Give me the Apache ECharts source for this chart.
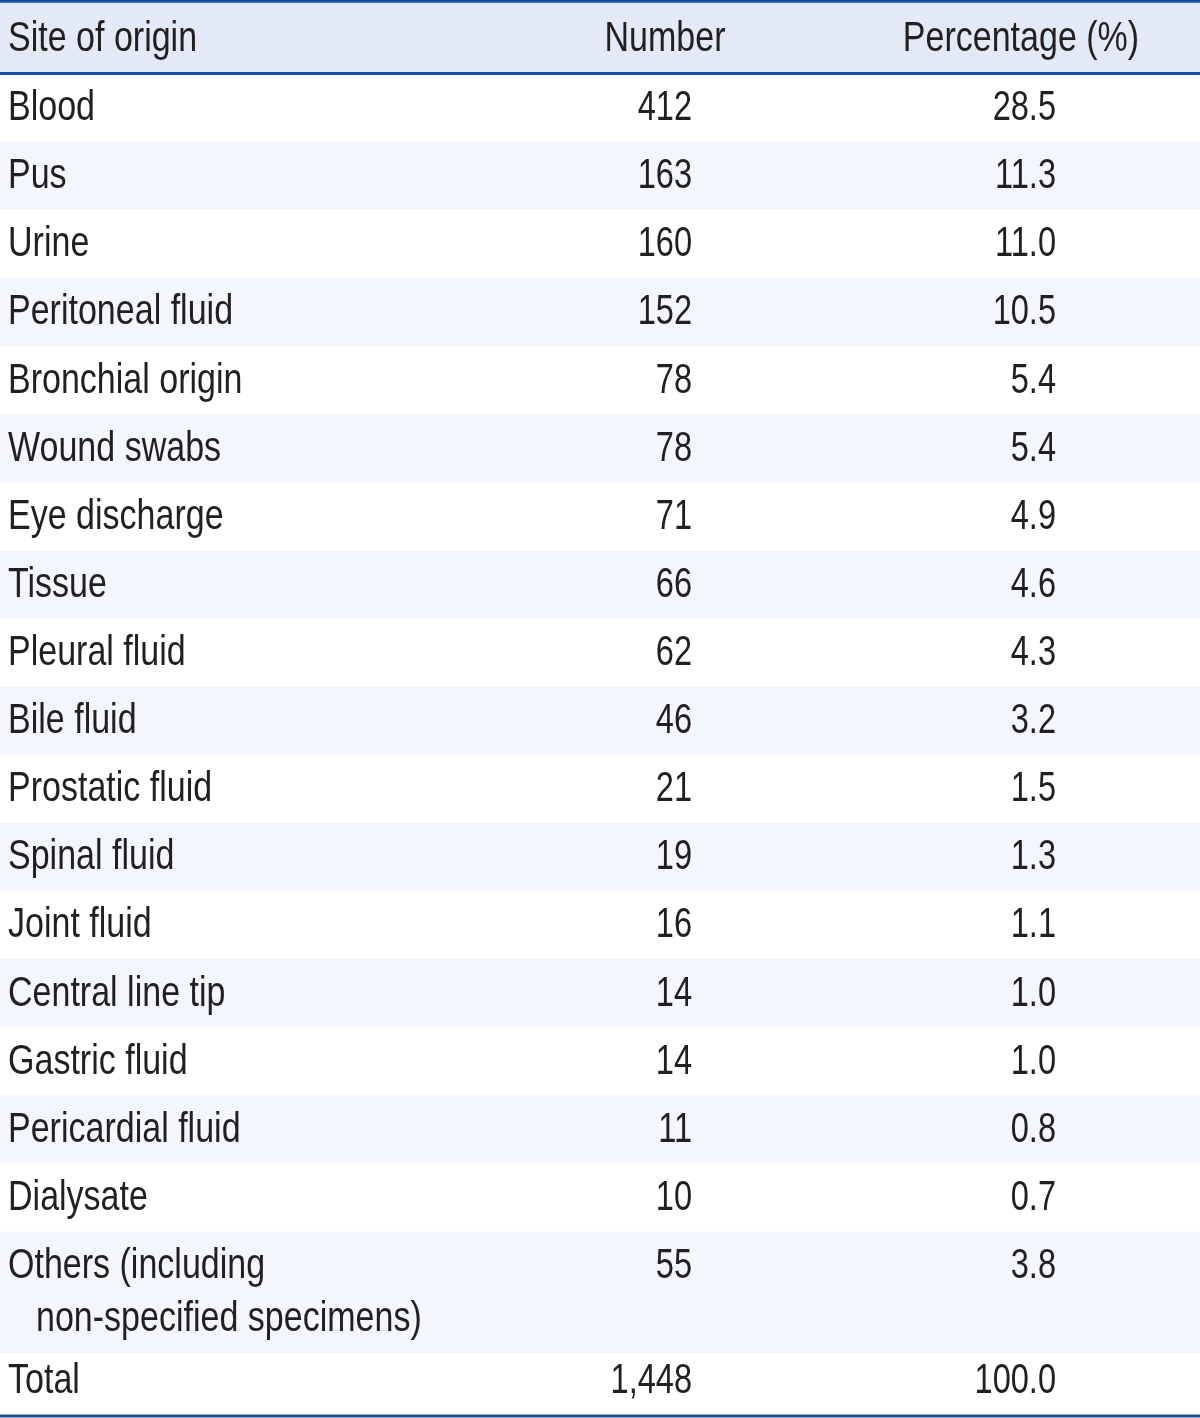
<!DOCTYPE html>
<html><head><meta charset="utf-8">
<script src="https://cdn.jsdelivr.net/npm/echarts@6/dist/echarts.min.js"></script>
<style>html,body{margin:0;padding:0;background:#fff}#c{width:1200px;height:1418px}</style>
</head><body><div id="c"></div>
<script>
const headers = ['Site of origin', 'Number', 'Percentage (%)'];
const sites = ['Blood', 'Pus', 'Urine', 'Peritoneal fluid', 'Bronchial origin', 'Wound swabs',
  'Eye discharge', 'Tissue', 'Pleural fluid', 'Bile fluid', 'Prostatic fluid', 'Spinal fluid',
  'Joint fluid', 'Central line tip', 'Gastric fluid', 'Pericardial fluid', 'Dialysate',
  'Others (including\nnon-specified specimens)', 'Total'];
const numbers = [412, 163, 160, 152, 78, 78, 71, 66, 62, 46, 21, 19, 16, 14, 14, 11, 10, 55, 1448];
const percentages = [28.5, 11.3, 11.0, 10.5, 5.4, 5.4, 4.9, 4.6, 4.3, 3.2, 1.5, 1.3, 1.1, 1.0, 1.0, 0.8, 0.7, 3.8, 100.0];

const FONT = '"Liberation Sans", Arial, sans-serif';
const TEXT = '#231f20';
const BORDER = '#1f4f9b';
const HEADER_BG = '#e3e9f6';
const STRIPE_BG = '#f3f6fc';
const FS = 42;
const SX_TEXT = 0.81;
const SX_NUM = 0.775;

// build rows (layout units along a value y-axis)
const rows = [];
let cursor = 0;
rows.push({ header: true, cells: headers, start: cursor, end: cursor + 1.06 });
cursor += 1.06;
sites.forEach((s, i) => {
  const lines = s.split('\n');
  const isLast = i === sites.length - 1;
  const h = isLast ? 0.92 : 1 + 0.79 * (lines.length - 1);
  rows.push({
    header: false, idx: i, lines: lines, last: isLast,
    num: numbers[i].toLocaleString('en-US'),
    pct: percentages[i].toFixed(1),
    start: cursor, end: cursor + h, h: h
  });
  cursor += h;
});
const totalUnits = cursor;

function txt(text, x, y, align, sx) {
  return {
    type: 'text', x: x, y: y, scaleX: sx, z2: 10,
    style: { text: text, x: 0, y: 0, align: align, verticalAlign: 'middle',
      fontFamily: FONT, fontSize: FS, fill: TEXT }
  };
}

function renderItem(params, api) {
  const r = rows[api.value(0)];
  const y0 = api.coord([0, r.start])[1];
  const y1 = api.coord([0, r.end])[1];
  const xL = api.coord([0, 0])[0];
  const xR = api.coord([1200, 0])[0];
  const unitPx = api.size([0, 1])[1];
  const X = v => api.coord([v, 0])[0];
  const children = [];
  if (r.header) {
    children.push({ type: 'rect', shape: { x: xL, y: y0, width: xR - xL, height: y1 - y0 }, style: { fill: HEADER_BG } });
    const cy = (y0 + y1) / 2 + 2;
    children.push(txt(r.cells[0], X(8), cy, 'left', SX_TEXT));
    children.push(txt(r.cells[1], X(665), cy, 'center', SX_TEXT));
    children.push(txt(r.cells[2], X(1021), cy, 'center', SX_TEXT));
    children.push({ type: 'line', z2: 20, shape: { x1: xL, y1: y0, x2: xR, y2: y0 }, style: { stroke: BORDER, lineWidth: 3 } });
    children.push({ type: 'line', z2: 20, shape: { x1: xL, y1: y1, x2: xR, y2: y1 }, style: { stroke: BORDER, lineWidth: 3 } });
  } else {
    if (r.idx % 2 === 1) {
      children.push({ type: 'rect', shape: { x: xL, y: y0, width: xR - xL, height: y1 - y0 }, style: { fill: STRIPE_BG } });
    }
    const firstCy = y0 + unitPx * (r.h >= 1 ? 0.485 : r.h * 0.42) + 2;
    r.lines.forEach((ln, k) => {
      children.push(txt(ln, X(k === 0 ? 8 : 36), firstCy + k * unitPx * 0.78, 'left', SX_TEXT));
    });
    children.push(txt(r.num, X(692), firstCy, 'right', SX_NUM));
    children.push(txt(r.pct, X(1056), firstCy, 'right', SX_NUM));
    if (r.last) {
      children.push({ type: 'line', z2: 20, shape: { x1: xL, y1: y1, x2: xR, y2: y1 }, style: { stroke: BORDER, lineWidth: 3 } });
    }
  }
  return { type: 'group', children: children };
}

const chart = echarts.init(document.getElementById('c'), null, { renderer: 'canvas' });
chart.setOption({
  animation: false,
  backgroundColor: '#ffffff',
  grid: { left: 0, right: 0, top: 1.3, bottom: 2 },
  xAxis: { type: 'value', min: 0, max: 1200, show: false },
  yAxis: { type: 'value', min: 0, max: totalUnits, inverse: true, show: false },
  series: [{
    type: 'custom',
    renderItem: renderItem,
    clip: false,
    encode: { x: -1, y: 0 },
    data: rows.map((r, i) => [i])
  }]
});
</script></body></html>
